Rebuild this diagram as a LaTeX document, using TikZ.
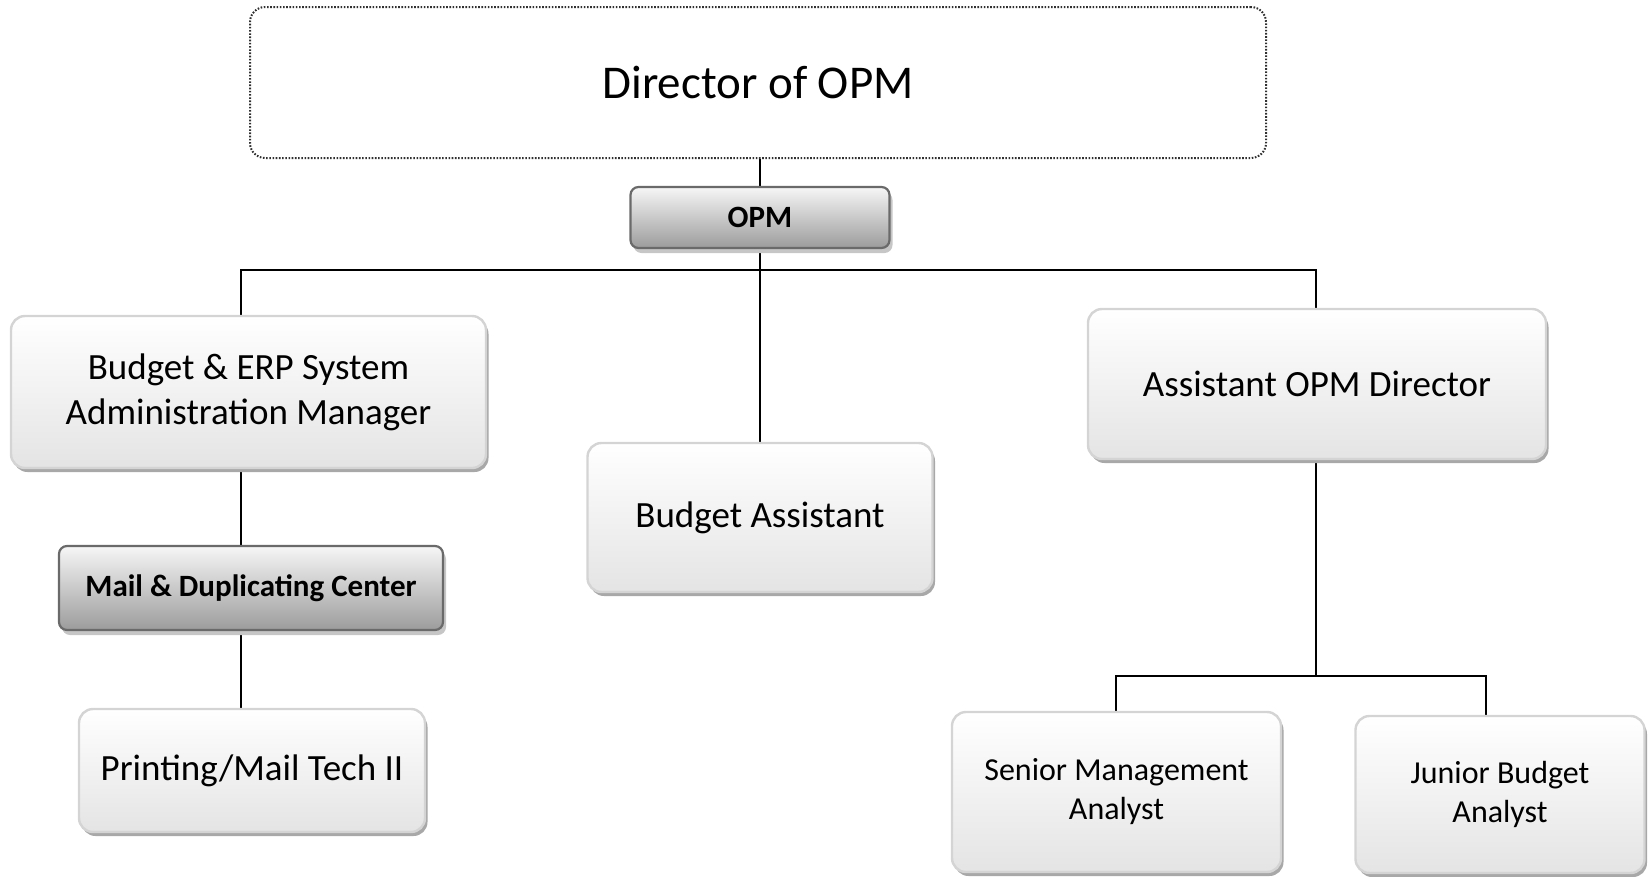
\documentclass[tikz,border=0pt]{standalone}
\usepackage{fontspec}
\setmainfont{Carlito}
\usetikzlibrary{shadows,backgrounds}
\definecolor{lbord}{HTML}{D4D4D4}
\definecolor{lbot}{HTML}{E4E4E4}
\definecolor{lshadow}{HTML}{A8A8A8}
\definecolor{gbord}{HTML}{6A6A6A}
\definecolor{gtop}{HTML}{F6F6F6}
\definecolor{gbot}{HTML}{9C9C9C}
\definecolor{gshadow}{HTML}{C6C6C6}
\definecolor{dbord}{HTML}{303030}
\begin{document}
\begin{tikzpicture}[x=1pt,y=-1pt,
  lightbox/.style={draw=lbord, line width=2.4pt, rounded corners=14pt,
    top color=white, bottom color=lbot,
    drop shadow={shadow xshift=2.5pt, shadow yshift=-4pt, fill=lshadow, opacity=1},
    align=center, font=\fontsize{37}{45}\selectfont, inner sep=0pt},
  smallbox/.style={lightbox, font=\fontsize{32}{39}\selectfont},
  graybox/.style={draw=gbord, line width=2.2pt, rounded corners=8pt,
    top color=gtop, bottom color=gbot,
    drop shadow={shadow xshift=3pt, shadow yshift=-5pt, fill=gshadow, opacity=1},
    font=\bfseries\fontsize{31}{37}\selectfont, inner sep=0pt},
  dirbox/.style={draw=dbord, line width=2pt, dash pattern=on 1.6pt off 1.6pt, rounded corners=15pt,
    fill=white, font=\fontsize{47}{56}\selectfont, inner sep=0pt},
  conn/.style={line width=2.8pt, black}]
\useasboundingbox (0,0) rectangle (1649,876);

\node[dirbox, minimum width=1016pt, minimum height=151pt] (dir) at (758,82.5) {Director of OPM};
\node[graybox, minimum width=259pt, minimum height=61pt] (opm) at (760,217.5) {OPM};
\node[lightbox, minimum width=475pt, minimum height=152pt] (erp) at (248.5,392) {Budget \& ERP System\\Administration Manager};
\node[graybox, minimum width=384pt, minimum height=84pt] (mail) at (251,588) {Mail \& Duplicating Center};
\node[lightbox, minimum width=346pt, minimum height=123pt] (print) at (252,770.5) {Printing/Mail Tech II};
\node[lightbox, minimum width=345pt, minimum height=149pt] (ba) at (760,517.5) {Budget Assistant};
\node[lightbox, minimum width=458pt, minimum height=150pt] (aod) at (1317,384) {Assistant OPM Director};
\node[smallbox, minimum width=329pt, minimum height=160pt] (sma) at (1116.5,792) {Senior Management\\Analyst};
\node[smallbox, minimum width=289pt, minimum height=157pt] (jba) at (1500,794.5) {Junior Budget\\Analyst};

\coordinate (bl) at (241,270);
\coordinate (br) at (1316,270);
\coordinate (sl) at (1116,676);
\coordinate (sr) at (1486,676);

\begin{scope}[on background layer]
\draw[conn] (opm.north |- dir.south) -- (opm.north);
\draw[conn] (opm.south) -- (ba.north);
\draw[conn] (erp.north -| bl) -- (bl) -- (br) -- (aod.north -| br);
\draw[conn] (erp.south -| bl) -- (mail.north -| bl);
\draw[conn] (mail.south -| bl) -- (print.north -| bl);
\draw[conn] (aod.south -| br) -- (br |- sl);
\draw[conn] (sma.north -| sl) -- (sl) -- (sr) -- (jba.north -| sr);
\end{scope}
\end{tikzpicture}
\end{document}
